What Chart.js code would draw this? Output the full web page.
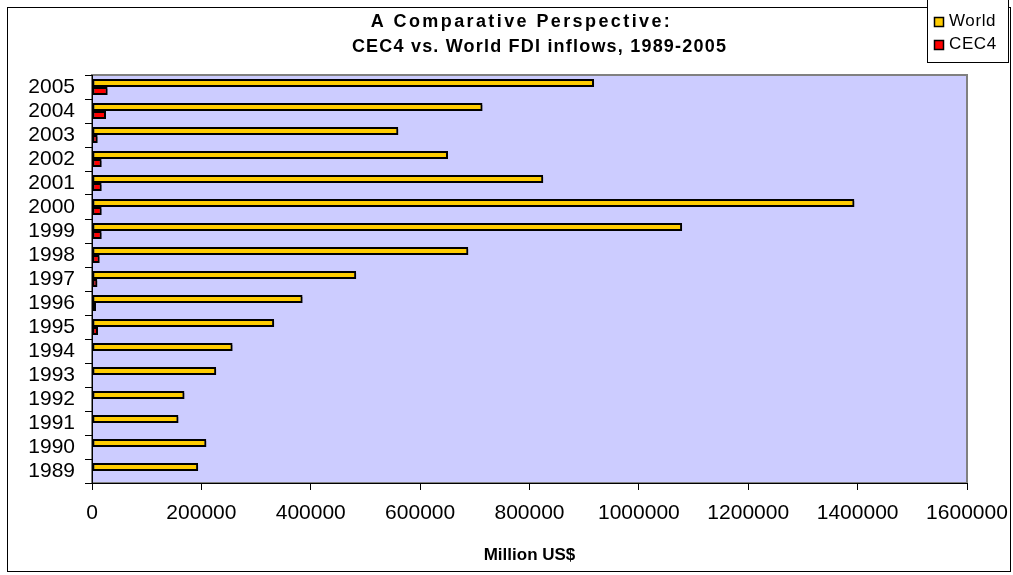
<!DOCTYPE html>
<html>
<head>
<meta charset="utf-8">
<title>CEC4 vs. World FDI inflows</title>
<script src="https://cdn.jsdelivr.net/npm/chart.js@4/dist/chart.umd.min.js"></script>
<style>
    html, body { margin: 0; padding: 0; background: #fff; }
    #wrap { position: relative; width: 1013px; height: 575px; }
</style>
</head>
<body>
<div id="wrap"><canvas id="chartFdi"></canvas></div>
<script>
// Datos (millones de US$)
const anios = ['1989', '1990', '1991', '1992', '1993', '1994', '1995', '1996', '1997',
               '1998', '1999', '2000', '2001', '2002', '2003', '2004', '2005'];
const mundo = [194000, 209000, 158000, 169000, 227000, 257000, 333000, 385000, 483000,
               688000, 1079000, 1394000, 825000, 651000, 560000, 714000, 918000];
const cec4 = [null, null, null, null, null, null, 11000, 7300, 9700,
              13900, 17600, 17600, 17600, 17600, 10300, 25600, 28500];
const ticksX = [0, 200000, 400000, 600000, 800000, 1000000, 1200000, 1400000, 1600000];
const titulo = ['A Comparative Perspective:', 'CEC4 vs. World FDI inflows, 1989-2005'];

const fuente = "'Liberation Sans', Arial, sans-serif";

// Fondo del area, bordes, titulo y leyenda
const decorado = {
    id: 'decorado',
    beforeDraw(chart) {
        const { ctx, chartArea: a } = chart;
        ctx.save();
        ctx.fillStyle = '#CCCCFF';
        ctx.fillRect(a.left, a.top, a.right - a.left, a.bottom - a.top);
        ctx.strokeStyle = '#808080';
        ctx.lineWidth = 2;
        ctx.strokeRect(a.left, a.top, a.right - a.left, a.bottom - a.top);
        ctx.restore();
    },
    beforeDatasetsDraw(chart) {
        const ctx = chart.ctx;
        ctx.save();
        ctx.shadowColor = 'rgba(0,0,0,0.4)';
        ctx.shadowOffsetX = 2;
        ctx.shadowOffsetY = 2;
        ctx.shadowBlur = 0;
    },
    afterDatasetsDraw(chart) {
        chart.ctx.restore();
    },
    afterDraw(chart) {
        const { ctx, chartArea: a } = chart;
        ctx.save();
        // borde exterior
        ctx.strokeStyle = '#000';
        ctx.lineWidth = 1;
        ctx.strokeRect(7.5, 7.5, 1003, 564);

        // titulo
        ctx.fillStyle = '#000';
        ctx.font = 'bold 18px ' + fuente;
        ctx.textAlign = 'center';
        ctx.textBaseline = 'middle';
        const cx = (a.left + a.right) / 2;
        ctx.letterSpacing = '2.4px';
        ctx.fillText(titulo[0], cx - 8, 22);
        ctx.letterSpacing = '1.2px';
        ctx.fillText(titulo[1], cx + 10, 47);
        ctx.letterSpacing = '0px';

        // leyenda
        ctx.fillStyle = '#fff';
        ctx.fillRect(927.5, -1, 81, 63.5);
        ctx.strokeRect(927.5, -1, 81, 63.5);
        ctx.font = '17px ' + fuente;
        ctx.textAlign = 'left';
        chart.data.datasets.forEach((ds, i) => {
            const y = 22 + i * 23;
            ctx.fillStyle = ds.backgroundColor;
            ctx.fillRect(934.5, y - 4.5, 9, 9);
            ctx.lineWidth = 1.5;
            ctx.strokeStyle = '#000';
            ctx.strokeRect(934.5, y - 4.5, 9, 9);
            ctx.fillStyle = '#000';
            ctx.letterSpacing = '0.6px';
            ctx.fillText(ds.label, 949, y - 1);
            ctx.letterSpacing = '0px';
        });
        ctx.restore();
    }
};

const ctx = document.getElementById('chartFdi').getContext('2d');

new Chart(ctx, {
    type: 'bar',
    data: {
        labels: anios,
        datasets: [{
            label: 'World',
            data: mundo,
            backgroundColor: '#FFCC00',
            borderColor: '#000',
            borderWidth: 2,
            borderSkipped: false
        }, {
            label: 'CEC4',
            data: cec4,
            backgroundColor: '#FF0000',
            borderColor: '#000',
            borderWidth: 2,
            borderSkipped: false
        }]
    },
    options: {
        indexAxis: 'y',
        responsive: true,
        maintainAspectRatio: false,
        animation: false,
        categoryPercentage: 0.67,
        barPercentage: 1,
        layout: {
            padding: { top: 75, right: 46, left: 0, bottom: 4 }
        },
        plugins: {
            legend: { display: false },
            title: { display: false },
            tooltip: { enabled: false }
        },
        scales: {
            x: {
                min: 0,
                max: 1600000,
                afterFit: s => { s.height = 88; s.paddingLeft = 0; s.paddingRight = 0; },
                afterBuildTicks: s => { s.ticks = ticksX.map(v => ({ value: v })); },
                ticks: {
                    color: '#000',
                    font: { family: fuente, size: 21 },
                    padding: 11,
                    maxRotation: 0,
                    autoSkip: false,
                    callback: v => String(v)
                },
                grid: {
                    drawOnChartArea: false,
                    drawTicks: true,
                    tickLength: 7,
                    color: '#000'
                },
                border: { display: true, color: '#000', width: 1 },
                title: {
                    display: true,
                    text: 'Million US$',
                    color: '#000',
                    font: { family: fuente, size: 17, weight: 'bold' },
                    padding: { top: 0, bottom: 5 }
                }
            },
            y: {
                reverse: true,
                afterFit: s => { s.width = 92; s.paddingTop = 0; s.paddingBottom = 0; },
                ticks: {
                    color: '#000',
                    font: { family: fuente, size: 21 },
                    padding: 10,
                    autoSkip: false
                },
                grid: {
                    offset: true,
                    drawOnChartArea: false,
                    drawTicks: true,
                    tickLength: 7,
                    color: '#000'
                },
                border: { display: true, color: '#000', width: 1 }
            }
        }
    },
    plugins: [decorado]
});
</script>
</body>
</html>
